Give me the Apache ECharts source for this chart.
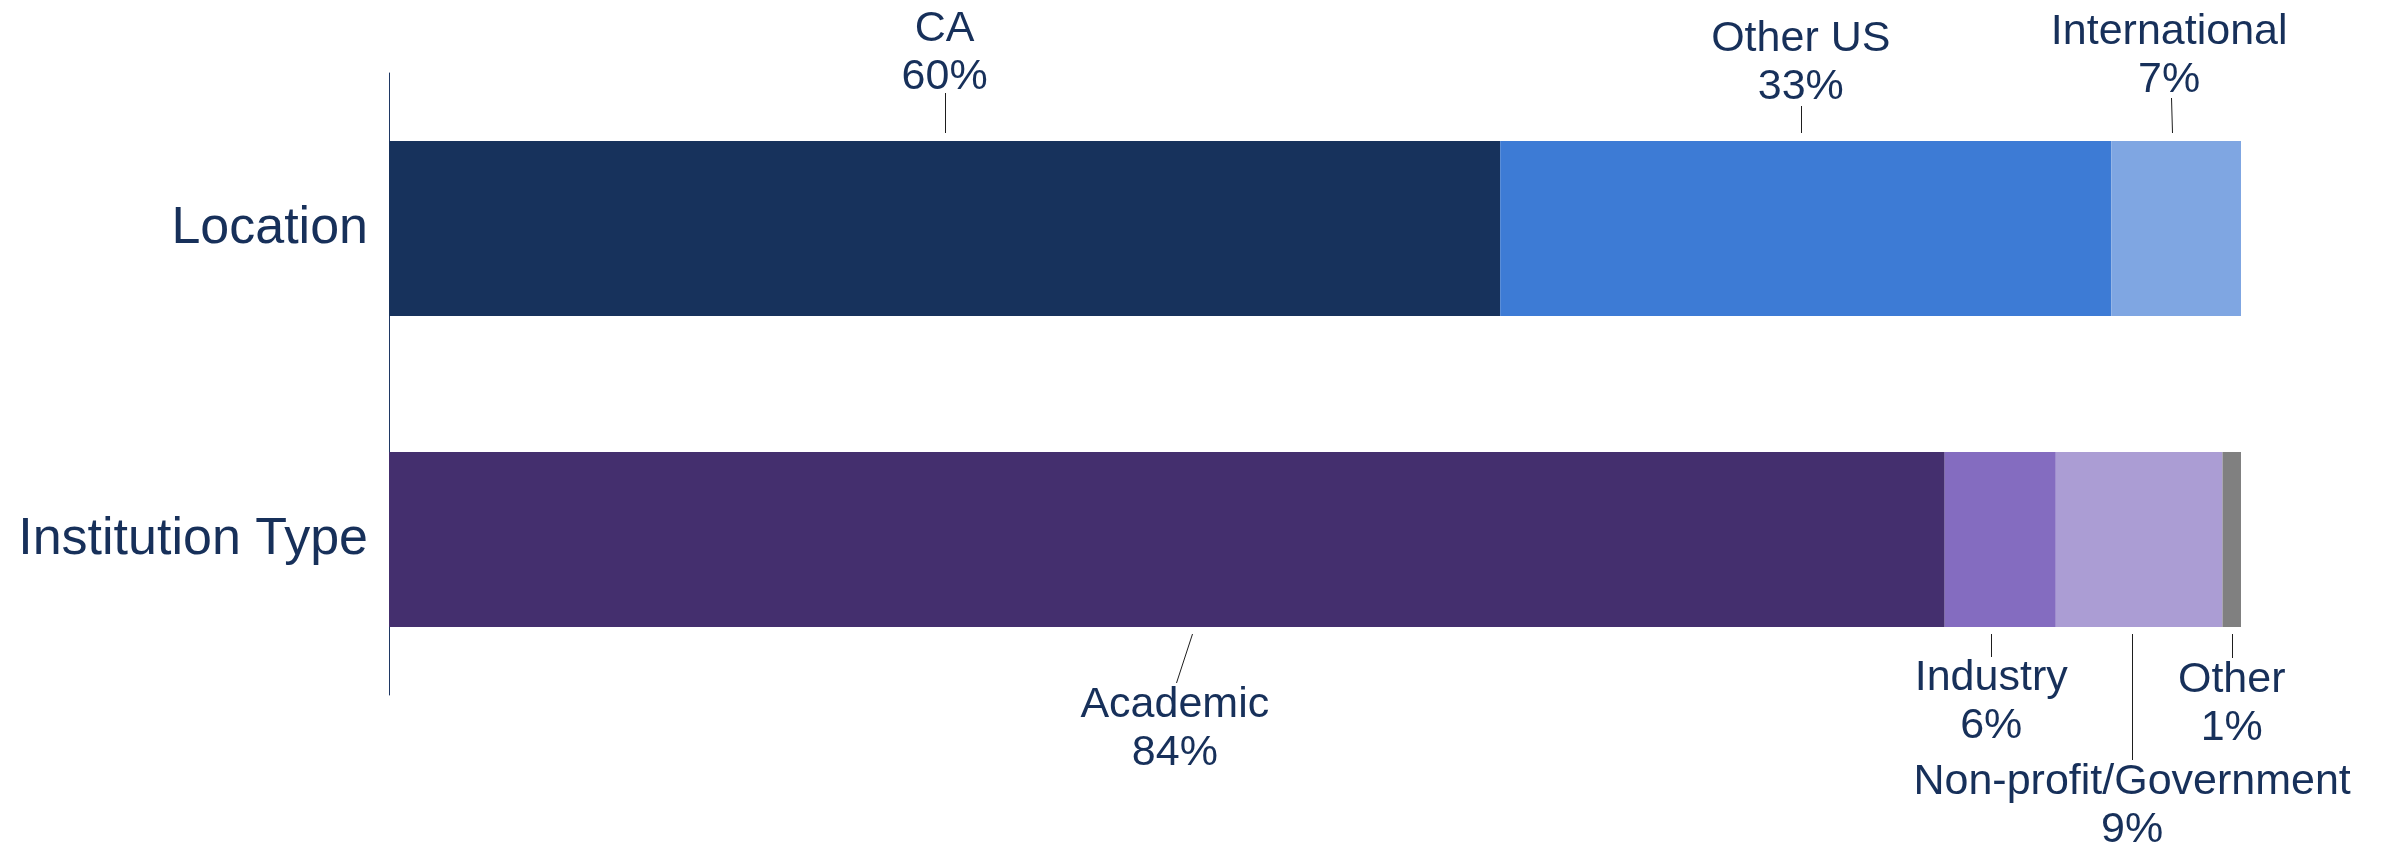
<!DOCTYPE html>
<html>
<head>
<meta charset="utf-8">
<script src="https://cdn.jsdelivr.net/npm/echarts@6/dist/echarts.min.js"></script>
<style>
  html, body { margin: 0; padding: 0; background: #ffffff; }
  #chart { width: 2384px; height: 849px; }
</style>
</head>
<body>
<div id="chart"></div>
<script>
// ---- data ----
const categories = ['Location', 'Institution Type'];
const locationNames = ['CA', 'Other US', 'International'];
const locationValues = [60, 33, 7];
const institutionNames = ['Academic', 'Industry', 'Non-profit/Government', 'Other'];
const institutionValues = [84, 6, 9, 1];

// ---- styling ----
const locationColors = ['#17325C', '#3D7BD5', '#7FA6E2'];
const institutionColors = ['#442F6E', '#846CC0', '#AB9DD4', '#808080'];
const TEXT_COLOR = '#17305A';
const LEADER_COLOR = '#1e1e1e';
const FONT = '"Liberation Sans", Arial, Helvetica, sans-serif';
const BAR_WIDTH = 175;

// Callout placement for each segment (pixels, measured from the bar edge)
const locationCallouts = [
  { side: 'top', textDx: 0,  textGap: 40, lineDx0: 0,  lineDx1: 0,  lineFrom: 8, lineTo: 48 },
  { side: 'top', textDx: -5, textGap: 30, lineDx0: -5, lineDx1: -5, lineFrom: 8, lineTo: 35 },
  { side: 'top', textDx: -7, textGap: 37, lineDx0: -4, lineDx1: -5, lineFrom: 8, lineTo: 43 }
];
const institutionCallouts = [
  { side: 'bottom', textDx: 8,  textGap: 54,  lineDx0: 25, lineDx1: 9,  lineFrom: 7, lineTo: 56 },
  { side: 'bottom', textDx: -9, textGap: 27,  lineDx0: -9, lineDx1: -9, lineFrom: 7, lineTo: 30 },
  { side: 'bottom', textDx: -7, textGap: 131, lineDx0: -7, lineDx1: -7, lineFrom: 7, lineTo: 133 },
  { side: 'bottom', textDx: 0,  textGap: 29,  lineDx0: 0,  lineDx1: 0,  lineFrom: 7, lineTo: 31 }
];

// ---- build series ----
const series = [];
const calloutData = [];
const calloutInfo = [];

function addGroup(names, values, colors, callouts, catIndex) {
  let start = 0;
  names.forEach((name, i) => {
    const data = categories.map((_, c) => (c === catIndex ? values[i] : '-'));
    series.push({
      name: name,
      type: 'bar',
      stack: 'total',
      barWidth: BAR_WIDTH,
      data: data,
      itemStyle: { color: colors[i] },
      emphasis: { disabled: true },
      silent: true
    });
    calloutData.push([start + values[i] / 2, catIndex]);
    calloutInfo.push(Object.assign({ name: name, value: values[i] }, callouts[i]));
    start += values[i];
  });
}
addGroup(locationNames, locationValues, locationColors, locationCallouts, 0);
addGroup(institutionNames, institutionValues, institutionColors, institutionCallouts, 1);

// Category callouts: name + percentage with a thin leader line to the segment
series.push({
  type: 'custom',
  clip: false,
  silent: true,
  z: 10,
  data: calloutData,
  encode: { x: 0, y: 1 },
  renderItem: function (params, api) {
    const c = calloutInfo[params.dataIndex];
    const p = api.coord([api.value(0), api.value(1)]);
    const dir = c.side === 'top' ? -1 : 1;
    const edge = p[1] + dir * BAR_WIDTH / 2;
    const lx0 = Math.round(p[0] + c.lineDx0) + 0.5;
    const lx1 = Math.round(p[0] + c.lineDx1) + 0.5;
    return {
      type: 'group',
      children: [
        {
          type: 'line',
          shape: { x1: lx0, y1: edge + dir * c.lineFrom, x2: lx1, y2: edge + dir * c.lineTo },
          style: { stroke: LEADER_COLOR, lineWidth: 1 }
        },
        {
          type: 'text',
          x: p[0] + c.textDx,
          y: edge + dir * c.textGap,
          style: {
            text: c.name + '\n' + c.value + '%',
            fill: TEXT_COLOR,
            fontSize: 43,
            fontFamily: FONT,
            lineHeight: 48,
            align: 'center',
            verticalAlign: dir < 0 ? 'bottom' : 'top'
          }
        }
      ]
    };
  }
});

const chart = echarts.init(document.getElementById('chart'), null, { renderer: 'canvas' });
chart.setOption({
  animation: false,
  backgroundColor: '#ffffff',
  grid: { left: 389, right: 143, top: 73, bottom: 154 },
  xAxis: { type: 'value', min: 0, max: 100, show: false },
  yAxis: {
    type: 'category',
    data: categories,
    inverse: true,
    axisLine: { show: true, lineStyle: { color: '#1F3864', width: 1 } },
    axisTick: { show: false },
    axisLabel: { fontSize: 52, color: TEXT_COLOR, margin: 21, fontFamily: FONT },
    splitLine: { show: false }
  },
  series: series
});
</script>
</body>
</html>
